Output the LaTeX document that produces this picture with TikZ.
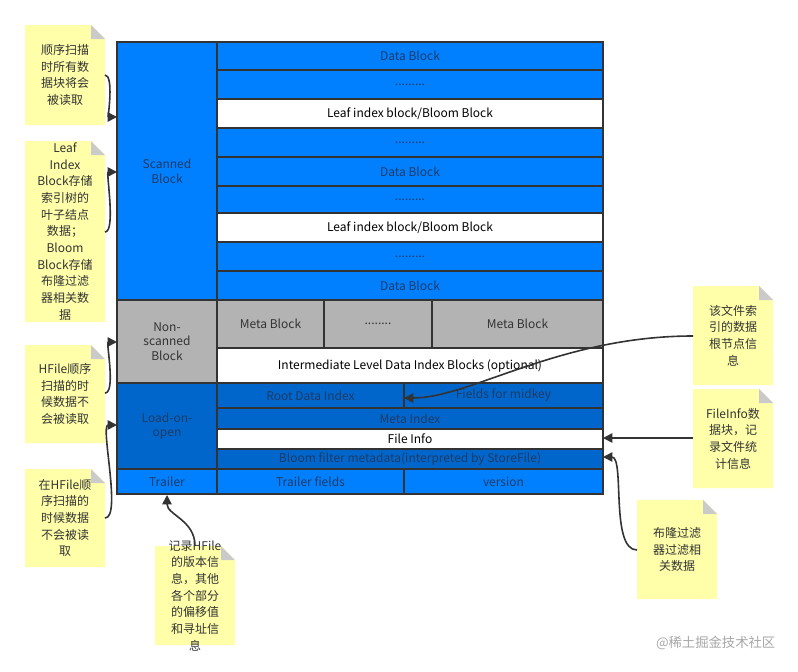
\documentclass[tikz,border=0pt]{standalone}
\usepackage{fontspec}
\setmainfont{Noto Sans CJK SC}
\usetikzlibrary{arrows.meta}
\definecolor{bb}{HTML}{0080FF}
\definecolor{db}{HTML}{0066CC}
\definecolor{gr}{HTML}{B3B3B3}
\definecolor{ny}{HTML}{FFFFAA}
\definecolor{tb}{HTML}{1F3B66}
\newcommand{\mycell}[7]{%
  \pgfmathsetmacro{\cw}{(#4-#2)*0.75}\pgfmathsetmacro{\ch}{(#5-#3)*0.75}%
  \node[cellsty, fill=#6, minimum width=\cw pt, minimum height=\ch pt] (#1) at ({(#2+#4)/2},{(#3+#5)/2}) {#7};}
\newcommand{\mynote}[6]{%
  \fill[ny] (#2,#3) -- (#2+#4-14,#3) -- (#2+#4,#3+14) -- (#2+#4,#3+#5) -- (#2,#3+#5) -- cycle;
  \fill[gr!70] (#2+#4-14,#3) -- (#2+#4,#3+14) -- (#2+#4-14,#3+14) -- cycle;
  \node[notetxt] (#1) at ({#2+#4/2},{#3+#5/2}) {#6};}
\begin{document}
\begin{tikzpicture}[x=0.75pt,y=-0.75pt,
  cellsty/.style={draw=black!80, line width=1pt, inner sep=0pt, font=\fontsize{9}{11}\selectfont, text=tb},
  wt/.style={text=black},
  notetxt/.style={align=center, font=\fontsize{9}{12.5}\selectfont, text=black!80, inner sep=0pt},
  arr/.style={draw=black!80, line width=1.2pt, -{Triangle[length=7pt,width=7pt]}}]
\useasboundingbox (0,0) rectangle (798,671);
% left column
\mycell{sb}{117}{42}{217}{300}{bb}{\parbox{40pt}{\centering Scanned\\Block}}
\mycell{ns}{117}{300}{217}{383}{gr}{\parbox{40pt}{\centering\color{black!80} Non-\\scanned\\Block}}
\mycell{lo}{117}{383}{217}{469}{db}{\parbox{40pt}{\centering Load-on-\\open}}
\mycell{tr}{117}{469}{217}{494}{bb}{Trailer}
% right
\mycell{d1}{217}{42}{603}{70}{bb}{Data Block}
\mycell{e1}{217}{70}{603}{99}{bb}{.........}
\mycell{l1}{217}{99}{603}{128}{white}{\color{black}Leaf index block/Bloom Block}
\mycell{e2}{217}{128}{603}{157}{bb}{.........}
\mycell{d2}{217}{157}{603}{186}{bb}{Data Block}
\mycell{e3}{217}{186}{603}{213}{bb}{.........}
\mycell{l2}{217}{213}{603}{242}{white}{\color{black}Leaf index block/Bloom Block}
\mycell{e4}{217}{242}{603}{271}{bb}{.........}
\mycell{d3}{217}{271}{603}{300}{bb}{Data Block}
\mycell{m1}{217}{300}{324}{348}{gr}{\color{black!80}Meta Block}
\mycell{m2}{324}{300}{432}{348}{gr}{\color{black!80}........}
\mycell{m3}{432}{300}{603}{348}{gr}{\color{black!80}Meta Block}
\mycell{im}{217}{348}{603}{383}{white}{\color{black}Intermediate Level Data Index Blocks (optional)}
\mycell{rd}{217}{383}{404}{408}{db}{Root Data Index}
\mycell{fm}{404}{383}{603}{408}{db}{Fields for midkey}
\mycell{mi}{217}{408}{603}{429}{db}{Meta Index}
\mycell{fi}{217}{429}{603}{449}{white}{\color{black}File Info}
\mycell{bf}{217}{449}{603}{469}{db}{Bloom filter metadata(interpreted by StoreFile)}
\mycell{tf}{217}{469}{404}{494}{bb}{Trailer fields}
\mycell{ve}{404}{469}{603}{494}{bb}{version}
% notes
\mynote{n1}{25}{25}{80}{100}{顺序扫描\\时所有数\\据块将会\\被读取}
\mynote{n2}{25}{141}{80}{181}{Leaf\\Index\\Block存储\\索引树的\\叶子结点\\数据；\\Bloom\\Block存储\\布隆过滤\\器相关数\\据}
\mynote{n3}{25}{345}{80}{98}{HFile顺序\\扫描的时\\候数据不\\会被读取}
\mynote{n4}{25}{469}{80}{98}{在HFile顺\\序扫描的\\时候数据\\不会被读\\取}
\mynote{n5}{155}{546}{80}{99}{记录HFile\\的版本信\\息，其他\\各个部分\\的偏移值\\和寻址信\\息}
\mynote{n6}{693}{286}{80}{99}{该文件索\\引的数据\\根节点信\\息}
\mynote{n7}{693}{389}{80}{99}{FileInfo数\\据块，记\\录文件统\\计信息}
\mynote{n8}{637}{500}{80}{99}{布隆过滤\\器过滤相\\关数据}
% arrows
\coordinate (a1s) at (105,75); \coordinate (a1e) at (117,117);
\draw[arr] (a1s) .. controls (114,75) and (108,117) .. (a1e);
\coordinate (a2s) at (105,232); \coordinate (a2e) at (117,172);
\draw[arr] (a2s) .. controls (116,232) and (106,172) .. (a2e);
\coordinate (a3s) at (105,393); \coordinate (a3e) at (117,342);
\draw[arr] (a3s) .. controls (116,393) and (106,342) .. (a3e);
\coordinate (a4s) at (105,518); \coordinate (a4e) at (117,425);
\draw[arr] (a4s) .. controls (122,518) and (100,425) .. (a4e);
\coordinate (a5s) at (195,546); \coordinate (a5e) at (167,495);
\draw[arr] (a5s) .. controls (195,520) and (167,515) .. (a5e);
\coordinate (a6s) at (693,336); \coordinate (a6e) at (404,398);
\draw[arr] (a6s) .. controls (560,336) and (470,398) .. (a6e);
\coordinate (a7s) at (693,438); \coordinate (a7e) at (603,438);
\draw[arr] (a7s) -- (a7e);
\coordinate (a8s) at (637,550); \coordinate (a8e) at (603,457);
\draw[arr] (a8s) .. controls (610,550) and (625,457) .. (a8e);
\node[text=black!35, font=\fontsize{10}{12}\selectfont, anchor=east] (wm) at (780,643) {@稀土掘金技术社区};
\end{tikzpicture}
\end{document}
